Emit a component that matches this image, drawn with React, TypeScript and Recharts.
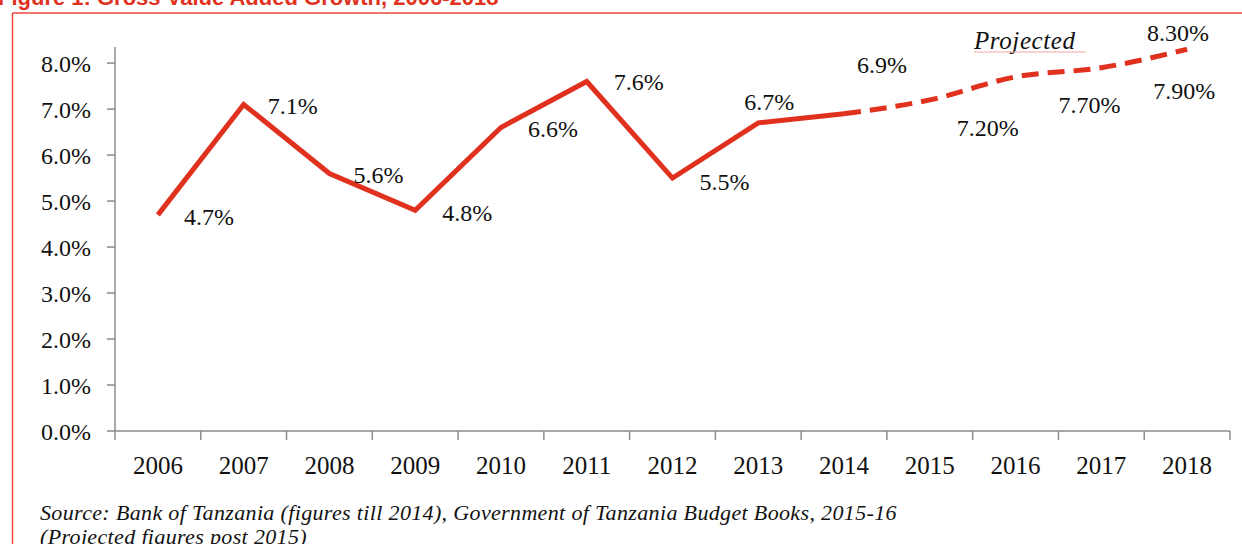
import { LabelList, Line, LineChart, XAxis, YAxis } from 'recharts'

const years = ['2006', '2007', '2008', '2009', '2010', '2011', '2012', '2013', '2014', '2015', '2016', '2017', '2018']
// actual growth 2006-2014
const actualGrowth = [4.7, 7.1, 5.6, 4.8, 6.6, 7.6, 5.5, 6.7, 6.9]
// projections 2014-2018 (2014 is the joint point)
const projectedGrowth = [6.9, 7.2, 7.7, 7.9, 8.3]
const projectedStart = 8
const yTicks = [0, 1, 2, 3, 4, 5, 6, 7, 8]

const RED = '#E0301E'
const FRAME = '#E8493A'
const AXIS = '#8C8C8C'
const SERIF = '"Liberation Serif", "Times New Roman", serif'

// where each data label sits relative to its point (dx, dy)
const labelShift: [number, number][] = [
  [51, 2], [49, 2], [49, 2], [52, 3], [52, 2], [52, 1], [52, 4],
  [11, -21], [38, -49], [58, 28], [74, 28], [83, 23], [-9, -16],
]

const data = years.map((year, i) => ({
  idx: i,
  year,
  actual: i < actualGrowth.length ? actualGrowth[i] : null,
  projected: i >= projectedStart ? projectedGrowth[i - projectedStart] : null,
}))

const centerTicks = years.map((_, i) => i)
const edgeTicks = years.map((_, i) => i - 0.5).concat(years.length - 0.5)
const xTicks = [...centerTicks, ...edgeTicks].sort((a, b) => a - b)

function YearTick(props: any) {
  const { x, y, payload } = props
  const v = payload.value
  if (Number.isInteger(v)) {
    return (
      <text x={x} y={y + 34} textAnchor="middle" dominantBaseline="central" fontFamily={SERIF} fontSize={25} fill="#111">
        {years[v]}
      </text>
    )
  }
  return <line x1={x} x2={x} y1={y} y2={y + 9} stroke={AXIS} strokeWidth={1.5} />
}

function makeLabel(decimals: number, skip: number | null) {
  return (props: any) => {
    const { x, y, value, index } = props
    if (value == null || index === skip) return null
    const [dx, dy] = labelShift[index]
    return (
      <text x={x + dx} y={y + dy} textAnchor="middle" dominantBaseline="central" fontFamily={SERIF} fontSize={24} fill="#111">
        {Number(value).toFixed(decimals)}%
      </text>
    )
  }
}

export default function App() {
  return (
    <div style={{ position: 'relative', width: 1242, height: 544, background: '#fff', overflow: 'hidden' }}>
      <style>{'body{margin:0}'}</style>
      <svg width={1242} height={544} style={{ position: 'absolute', left: 0, top: 0 }}>
        <text x={-2} y={5} fontFamily='"Liberation Sans", Arial, sans-serif' fontWeight="bold" fontSize={22} fill={RED}>
          Figure 1: Gross Value Added Growth, 2006-2018
        </text>
        <line x1={12.5} x2={1242} y1={13} y2={13} stroke={FRAME} strokeWidth={1.5} />
        <line x1={12.5} x2={12.5} y1={13} y2={544} stroke={FRAME} strokeWidth={1.5} />
        <text x={974} y={49} fontFamily={SERIF} fontStyle="italic" fontSize={25} letterSpacing={0.6} fill="#111">Projected</text>
        <line x1={974} x2={1086} y1={52} y2={52} stroke="#F3A6A6" strokeWidth={1} />
        <text x={40} y={520} fontFamily={SERIF} fontStyle="italic" fontSize={22} letterSpacing={0.35} fill="#111">
          Source: Bank of Tanzania (figures till 2014), Government of Tanzania Budget Books, 2015-16
        </text>
        <text x={40} y={544} fontFamily={SERIF} fontStyle="italic" fontSize={22} letterSpacing={0.35} fill="#111">
          (Projected figures post 2015)
        </text>
      </svg>
      <div style={{ position: 'absolute', left: 0, top: 0 }}>
        <LineChart width={1242} height={544} data={data} margin={{ top: 47, right: 12, bottom: 63, left: 0 }}>
          <XAxis
            dataKey="idx"
            type="number"
            domain={[-0.5, years.length - 0.5]}
            ticks={xTicks}
            interval={0}
            tickSize={0}
            tickMargin={0}
            tickLine={false}
            tick={<YearTick />}
            axisLine={{ stroke: AXIS, strokeWidth: 1.5 }}
            height={50}
          />
          <YAxis
            type="number"
            domain={[0, 8.35]}
            ticks={yTicks}
            interval={0}
            allowDataOverflow
            width={115}
            tickSize={8}
            tickMargin={16}
            tickFormatter={(v: number) => `${v.toFixed(1)}%`}
            tick={{ fill: '#111', fontSize: 24, fontFamily: SERIF }}
            tickLine={{ stroke: AXIS, strokeWidth: 1.5 }}
            axisLine={{ stroke: AXIS, strokeWidth: 1.5 }}
          />
          <Line
            dataKey="actual"
            type="linear"
            stroke={RED}
            strokeWidth={5}
            strokeLinejoin="miter"
            dot={false}
            isAnimationActive={false}
          >
            <LabelList dataKey="actual" content={makeLabel(1, null)} />
          </Line>
          <Line
            dataKey="projected"
            type="monotone"
            stroke={RED}
            strokeWidth={5}
            strokeDasharray="17 9"
            dot={false}
            isAnimationActive={false}
          >
            <LabelList dataKey="projected" content={makeLabel(2, projectedStart)} />
          </Line>
        </LineChart>
      </div>
    </div>
  )
}
